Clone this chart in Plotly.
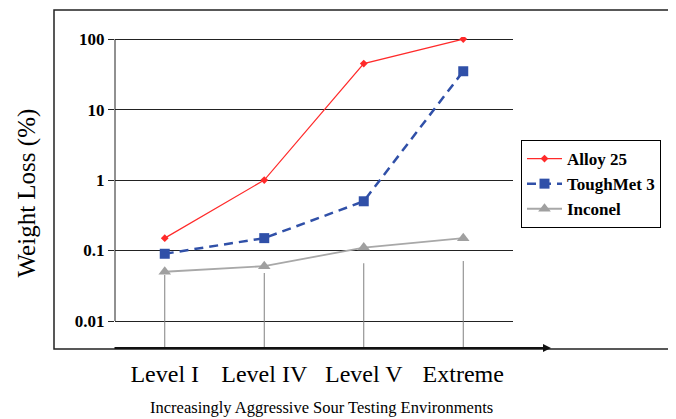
import plotly.graph_objects as go

# ---- data ----
categories = ["Level I", "Level IV", "Level V", "Extreme"]
alloy25 = [0.15, 1.0, 45, 100]
toughmet3 = [0.09, 0.15, 0.5, 35]
inconel = [0.05, 0.06, 0.11, 0.15]
drop_tops = [0.045, 0.048, 0.066, 0.071]
y_tickvals = [0.01, 0.1, 1, 10, 100]
y_ticktext = ["0.01", "0.1", "1", "10", "100"]
x_title = "Increasingly Aggressive Sour Testing Environments"
y_title = "Weight Loss (%)"

# the page body has an 8px margin, so the figure is 8px smaller and all positions shifted
OFF = 8
W, H = 676 - OFF, 419 - OFF
y_lo, y_hi = -2.383, 2.03
decade = 70.5
ph = (y_hi - y_lo) * decade
plot_bottom = 348 - OFF
plot_left, plot_right = 115 - OFF, 513 - OFF
L, R = plot_left, W - plot_right
B = H - plot_bottom
T = round(plot_bottom - ph)
pw = plot_right - plot_left
ph = plot_bottom - T


def px(x):  # window pixel x -> paper x
    return (x - OFF - L) / pw


def py(y):  # window pixel y -> paper y
    return (plot_bottom - (y - OFF)) / ph


serif = "Liberation Serif, Times New Roman, serif"

fig = go.Figure()

# drop lines from the axis up to the Inconel points
dx, dy = [], []
bottom = 10 ** y_lo
for c, t in zip(categories, drop_tops):
    dx += [c, c, None]
    dy += [bottom, t, None]
fig.add_trace(go.Scatter(x=dx, y=dy, mode="lines", line=dict(color="#808080", width=1),
                         showlegend=False, hoverinfo="skip", cliponaxis=False))

fig.add_trace(go.Scatter(x=categories, y=alloy25, name="Alloy 25", mode="lines+markers",
                         line=dict(color="#FF2A2A", width=1.2),
                         marker=dict(symbol="diamond", size=6, color="#FF2A2A")))
fig.add_trace(go.Scatter(x=categories, y=toughmet3, name="ToughMet 3", mode="lines+markers",
                         line=dict(color="#3050A8", width=2.5, dash="9px,6px"),
                         marker=dict(symbol="square", size=10, color="#3050A8")))
fig.add_trace(go.Scatter(x=categories, y=inconel, name="Inconel", mode="lines+markers",
                         line=dict(color="#A8A8A8", width=1.8),
                         marker=dict(symbol="triangle-up", size=11, color="#A0A0A0")))

fig.update_layout(
    width=W, height=H,
    margin=dict(l=L, r=R, t=T, b=B, pad=0),
    paper_bgcolor="white", plot_bgcolor="white",
    font=dict(family=serif, color="black"),
    showlegend=True,
    legend=dict(x=px(521), y=py(140), xanchor="left", yanchor="top",
                bordercolor="black", borderwidth=1, bgcolor="white",
                font=dict(family=serif, size=17, color="black", weight="bold"),
                itemwidth=35, tracegroupgap=0),
    xaxis=dict(type="category", range=[-0.5, 3.5], showgrid=False, showline=False,
               zeroline=False, ticks="", tickfont=dict(family=serif, size=24),
               ticklabelstandoff=9, automargin=False),
    yaxis=dict(type="log", range=[y_lo, y_hi], tickvals=y_tickvals, ticktext=y_ticktext,
               showgrid=True, gridcolor="#222", gridwidth=1, showline=False, zeroline=False,
               ticks="outside", ticklen=6, tickcolor="#222", tickwidth=1,
               tickfont=dict(family=serif, size=17, weight="bold"), automargin=False),
)

# axis titles
fig.add_annotation(xref="paper", yref="paper", x=px(26), y=py(193.5), text=y_title,
                   textangle=-90, showarrow=False, xanchor="center", yanchor="middle",
                   font=dict(family=serif, size=25, color="black"))
fig.add_annotation(xref="paper", yref="paper", x=px(321), y=py(407), text=x_title,
                   showarrow=False, xanchor="center", yanchor="middle",
                   font=dict(family=serif, size=16.5, color="black"))

# y axis line from 0.01 to 100
fig.add_shape(type="line", xref="paper", yref="y", x0=0, x1=0,
              y0=y_tickvals[0], y1=y_tickvals[-1], line=dict(color="#222", width=1))
# outer frame
fig.add_shape(type="rect", xref="paper", yref="paper",
              x0=px(54), x1=px(670), y0=py(349), y1=py(10),
              line=dict(color="#222", width=1.5))
# x axis arrow
fig.add_annotation(xref="paper", yref="paper", x=px(551), y=0,
                   ax=-(551 - 113), ay=0,
                   showarrow=True, arrowhead=2, arrowsize=0.8, arrowwidth=2, arrowcolor="#111",
                   text="")

fig.write_html("out.html")
